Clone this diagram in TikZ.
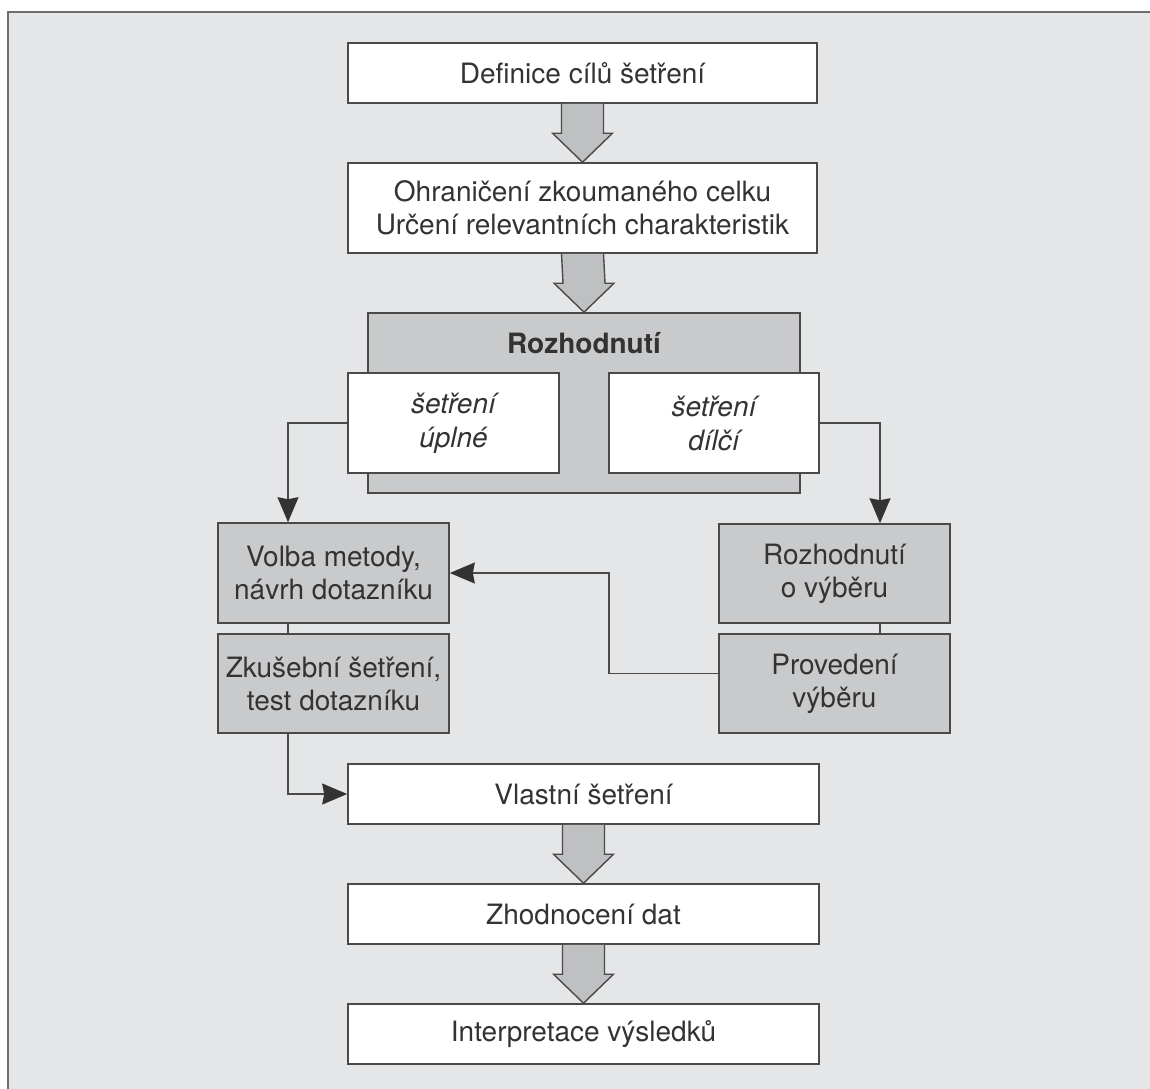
\documentclass[tikz,border=0pt]{standalone}
\usepackage{fontspec}
\setmainfont{TeX Gyre Heros}
\usetikzlibrary{arrows.meta,calc}
\definecolor{bgc}{HTML}{E5E6E8}
\definecolor{framec}{HTML}{6E6E6E}
\definecolor{boxgray}{HTML}{C9CACC}
\definecolor{arrgray}{HTML}{BFC0C2}
\definecolor{linec}{HTML}{4A4A4A}
\definecolor{headc}{HTML}{333333}
\definecolor{txtc}{HTML}{333333}
\tikzset{
  base/.style={draw=linec, line width=1.6pt, text=txtc, align=center, inner sep=0pt,
    font=\fontsize{28}{33}\selectfont},
  wbox/.style={base, fill=white},
  gbox/.style={base, fill=boxgray},
  conn/.style={draw=linec, line width=1.5pt},
  arr/.style={conn, -{Stealth[length=25pt,width=21pt,inset=2pt,color=headc]}},
  blk/.style={draw=linec, line width=1.4pt, fill=arrgray, line join=miter},
}
\newcommand{\blockarrow}[2]{%
  \draw[blk] ([xshift=-21pt]#1.south) -- ([xshift=-21pt,yshift=29pt]#2.north)
    -- ([xshift=-30pt,yshift=29pt]#2.north) -- (#2.north)
    -- ([xshift=30pt,yshift=29pt]#2.north) -- ([xshift=21pt,yshift=29pt]#2.north)
    -- ([xshift=21pt]#1.south);}
\begin{document}
\begin{tikzpicture}[x=1pt,y=-1pt]
\useasboundingbox (0,0) rectangle (1150,1088);
\begin{scope}
\clip (0,0) rectangle (1150,1088);
\draw[draw=framec, line width=2pt, fill=bgc] (8,12) rectangle (1170,1110);
\end{scope}
% nodes
\node[wbox, minimum width=469pt, minimum height=60pt] (d1) at (582.5,73) {Definice cílů šetření};
\node[wbox, minimum width=469pt, minimum height=90pt] (d2) at (582.5,208) {Ohraničení zkoumaného celku\\Určení relevantních charakteristik};
\node[gbox, minimum width=432pt, minimum height=180pt] (roz) at (584,403) {};
\node[text=txtc, font=\fontsize{28}{33}\selectfont\bfseries, inner sep=0pt] (rozt) at (584,343) {Rozhodnutí};
\node[wbox, minimum width=211pt, minimum height=100pt, font=\fontsize{28}{34}\selectfont\itshape] (up) at (453.5,423) {šetření\\úplné};
\node[wbox, minimum width=210pt, minimum height=100pt, font=\fontsize{28}{34}\selectfont\itshape] (dil) at (714,423) {šetření\\dílčí};
\node[gbox, minimum width=231pt, minimum height=100pt] (volba) at (333.5,573) {Volba metody,\\návrh dotazníku};
\node[gbox, minimum width=231pt, minimum height=99pt] (zkus) at (333.5,683.5) {Zkušební šetření,\\test dotazníku};
\node[gbox, minimum width=231pt, minimum height=99pt] (rvyb) at (834.5,573.5) {Rozhodnutí\\o výběru};
\node[gbox, minimum width=231pt, minimum height=99pt] (prov) at (834.5,683.5) {Provedení\\výběru};
\node[wbox, minimum width=471pt, minimum height=60pt] (vl) at (583.5,794) {Vlastní šetření};
\node[wbox, minimum width=471pt, minimum height=60pt] (zh) at (583.5,914) {Zhodnocení dat};
\node[wbox, minimum width=471pt, minimum height=60pt] (int) at (583.5,1034) {Interpretace výsledků};
% axes
\coordinate (axL) at (288,0);
\coordinate (axR) at (880,0);
\coordinate (axM) at (609,0);
% block arrows
\blockarrow{d1}{d2}
\blockarrow{d2}{roz}
\blockarrow{vl}{zh}
\blockarrow{zh}{int}
% connectors
\draw[arr] (up.west) -| (axL |- volba.north);
\draw[arr] (dil.east) -| (axR |- rvyb.north);
\draw[conn] (axL |- volba.south) -- (axL |- zkus.north);
\draw[conn] (axR |- rvyb.south) -- (axR |- prov.north);
\draw[arr] (axL |- zkus.south) |- (vl.west);
\draw[arr] ([yshift=10pt]prov.west) -| (axM |- volba.east) -- (volba.east);
\end{tikzpicture}
\end{document}
